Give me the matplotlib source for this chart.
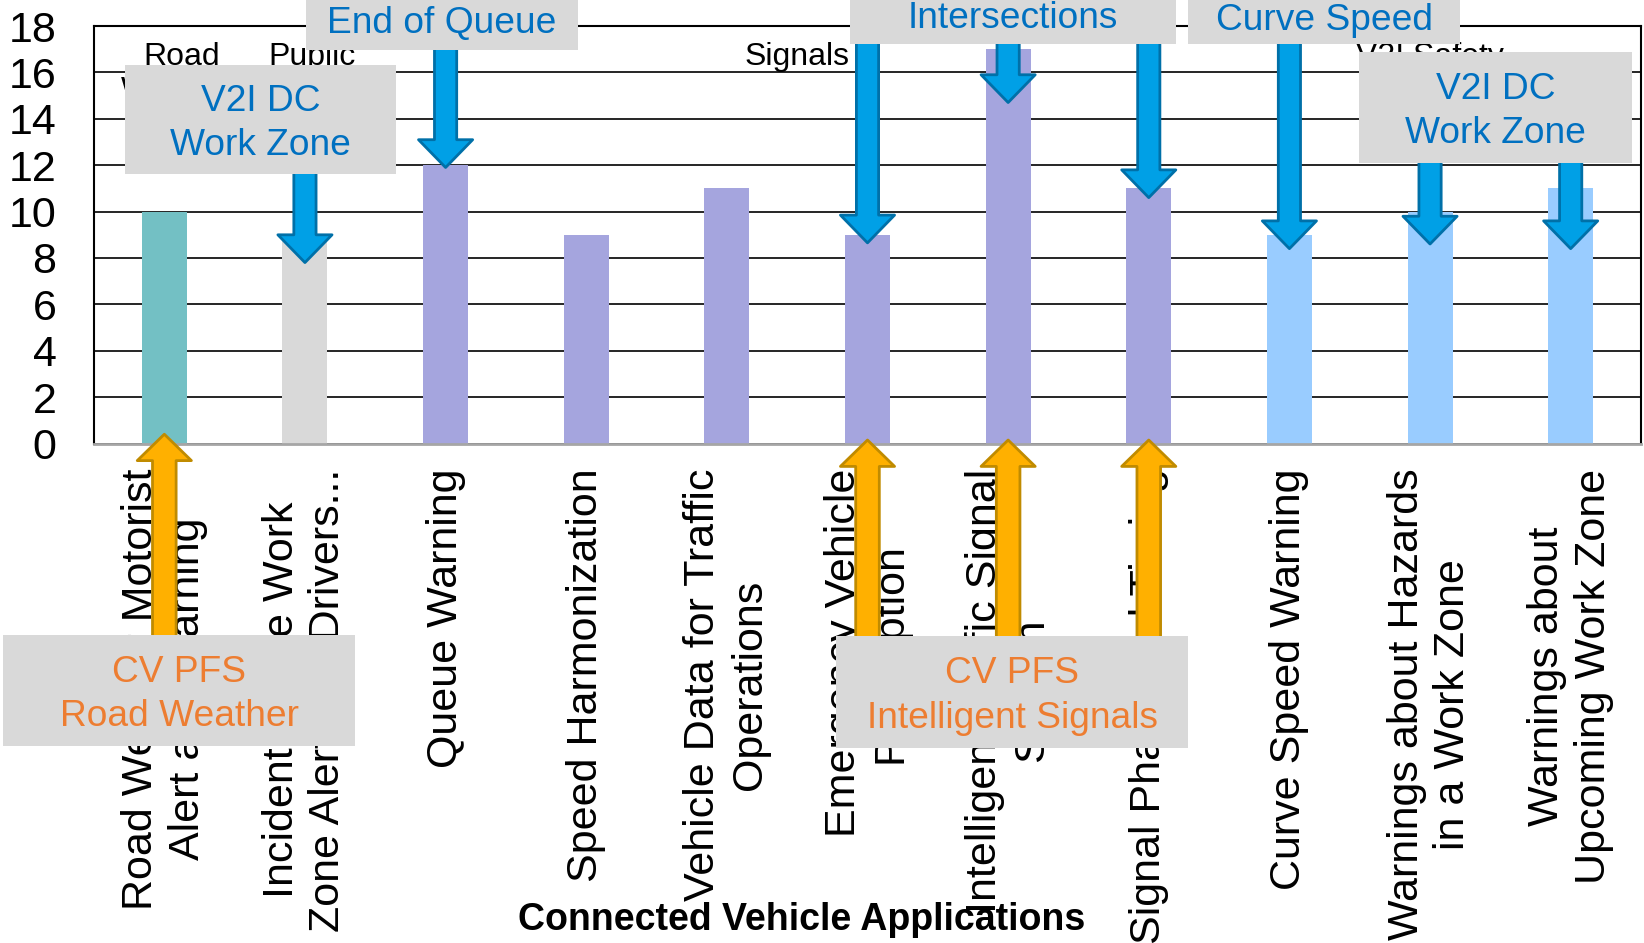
import matplotlib
matplotlib.use('Agg')
import matplotlib.pyplot as plt
from matplotlib.patches import Rectangle

plt.rcParams['font.family'] = ['Liberation Sans', 'DejaVu Sans']

# data
apps = ['Road Weather Motorist\nAlert and Warning',
        'Incident Scene Work\nZone Alerts for Drivers...',
        'Queue Warning',
        'Speed Harmonization',
        'Vehicle Data for Traffic\nOperations',
        'Emergency Vehicle\nPreemption',
        'Intelligent Traffic Signal\nSystem',
        'Signal Phase and Timing',
        'Curve Speed Warning',
        'Warnings about Hazards\nin a Work Zone',
        'Warnings about\nUpcoming Work Zone']
counts = [10, 9, 12, 9, 11, 9, 17, 11, 9, 10, 11]
app_group = [0, 1, 2, 2, 2, 2, 2, 2, 3, 3, 3]
group_names = ['Road\nWeather', 'Public\nSafety', 'Signals', 'V2I Safety']
group_colors = ['#73C0C4', '#D9D9D9', '#A5A5DE', '#99CCFF']
yticks = [0, 2, 4, 6, 8, 10, 12, 14, 16, 18]

# callouts: text, box (left, top, right, bottom in px from top-left), arrows (app index, tip value)
blue_callouts = [
    ('V2I DC\nWork Zone', (125, 65, 396, 174), [(1, 7.8)]),
    ('End of Queue', (306, -10, 578, 50), [(2, 11.9)]),
    ('Intersections', (850, -16, 1176, 44), [(5, 8.65), (6, 14.7), (7, 10.6)]),
    ('Curve Speed', (1188, -12, 1460, 44), [(8, 8.4)]),
    ('V2I DC\nWork Zone', (1359, 52, 1632, 163), [(9, 8.6), (10, 8.4)]),
]
orange_callouts = [
    ('CV PFS\nRoad Weather', (3, 635, 355, 746), [(0, 0.4)]),
    ('CV PFS\nIntelligent Signals', (836, 636, 1188, 748), [(5, 0.15), (6, 0.15), (7, 0.15)]),
]

W, H = 1644, 943
fig = plt.figure(figsize=(W / 100, H / 100), dpi=100)
ax = fig.add_axes([94 / W, 1 - 443.5 / H, (1641 - 94) / W, (443.5 - 26) / H])

x = list(range(len(apps)))
colors = [group_colors[g] for g in app_group]
ax.bar(x, counts, width=0.32, color=colors, zorder=2)

ax.set_xlim(-0.5, len(apps) - 0.5)
ax.set_ylim(0, 18)
ax.set_yticks(yticks)
ax.set_yticklabels([str(t) for t in yticks], fontsize=31)
ax.set_xticks(x)
ax.set_xticklabels(apps, rotation=90, fontsize=31, linespacing=1.22)
ax.tick_params(axis='y', length=0, pad=27)
ax.tick_params(axis='x', length=0, pad=18)
ax.grid(axis='y', color='black', linewidth=1.2, zorder=1)
ax.set_axisbelow(True)
for s in ['left', 'top', 'right']:
    ax.spines[s].set_color('black')
    ax.spines[s].set_linewidth(1.5)
ax.spines['bottom'].set_color('#A6A6A6')
ax.spines['bottom'].set_linewidth(2)

# group labels inside the plot
group_dx = [0.12, 0.05, 0, 0]
for gi, name in enumerate(group_names):
    members = [i for i, g in enumerate(app_group) if g == gi]
    gx = sum(members) / len(members) + group_dx[gi]
    ax.text(gx, 17.3, name, ha='center', va='top', fontsize=23, linespacing=1.15, zorder=3)

fig.text(802 / W, 1 - 920 / H, 'Connected Vehicle Applications', fontsize=27,
         fontweight='bold', ha='center', va='center')


def callout(text, box, arrows, tcolor, fc, ec, up):
    l, t, r, b = box
    fig.add_artist(Rectangle((l / W, 1 - b / H), (r - l) / W, (b - t) / H,
                             transform=fig.transFigure, facecolor='#D9D9D9',
                             edgecolor='none', zorder=5))
    fig.text((l + r) / 2 / W, 1 - ((t + b) / 2 + 4) / H, text, color=tcolor, fontsize=26.7,
             ha='center', va='center', linespacing=1.35, zorder=6)
    for idx, tip in arrows:
        tail = H - (t + 6) if up else H - (b - 6)
        if up:
            style = 'simple,head_length=19,head_width=39,tail_width=17'
        else:
            style = 'simple,head_length=20,head_width=39,tail_width=16'
        ax.annotate('', xy=(idx, tip), xycoords='data',
                    xytext=(idx, tail), textcoords=('data', 'figure pixels'),
                    annotation_clip=False,
                    arrowprops=dict(arrowstyle=style, mutation_scale=1,
                                    fc=fc, ec=ec, lw=2, shrinkA=0, shrinkB=0),
                    zorder=4)


for text, box, arrows in blue_callouts:
    callout(text, box, arrows, '#0070C0', '#00A0E6', '#0070A8', False)
for text, box, arrows in orange_callouts:
    callout(text, box, arrows, '#ED7D31', '#FFB000', '#C08B00', True)

plt.savefig('out.png', dpi=100)
